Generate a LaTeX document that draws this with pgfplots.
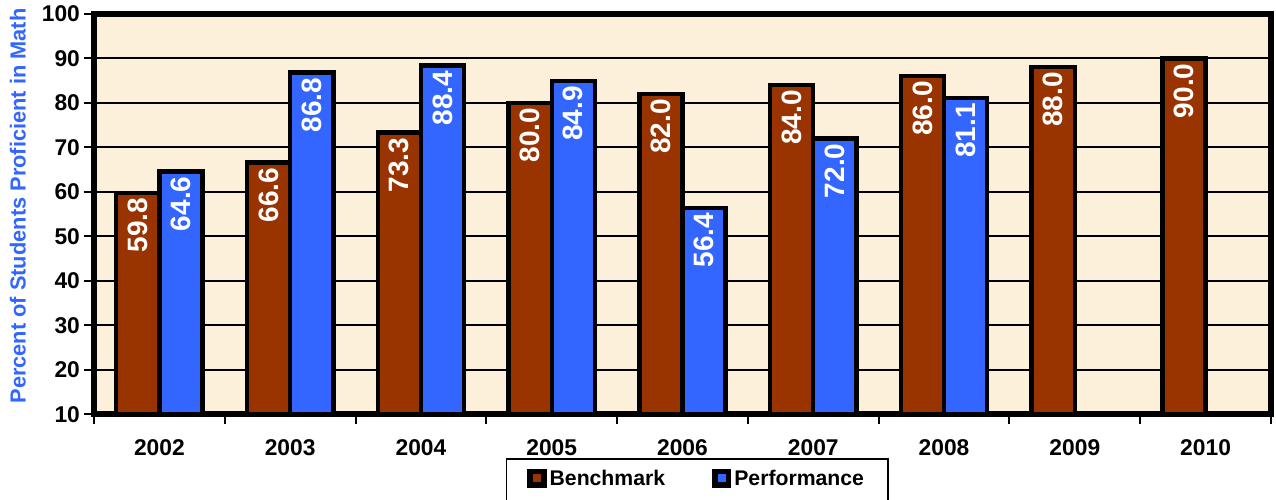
\documentclass[border=0pt]{standalone}
\usepackage{fontspec}
\setmainfont{Liberation Sans}
\usepackage{pgfplots}
\pgfplotsset{compat=1.18}
\usetikzlibrary{calc}
\definecolor{bench}{HTML}{993300}
\definecolor{perf}{HTML}{3366FF}
\definecolor{bg}{HTML}{FCF0DA}
\begin{document}
\begin{tikzpicture}
\begin{axis}[
  name=ax,
  scale only axis, width=588.5pt, height=200.25pt,
  ybar=0pt, bar width=0.33,
  xmin=-0.5, xmax=8.5, ymin=10, ymax=100,
  axis background/.style={fill=bg},
  axis line style={line width=3pt},
  xtick={0,...,8},
  xticklabels={2002,2003,2004,2005,2006,2007,2008,2009,2010},
  minor xtick={-0.5,0.5,...,8.5},
  major x tick style={draw=none},
  minor x tick style={black, line width=1pt},
  minor tick length=5pt,
  ytick={10,20,...,100},
  yticklabels={10,20,30,40,50,60,70,80,90,100},
  major tick length=5pt,
  ytick style={black, line width=1pt},
  tick align=outside,
  xtick pos=bottom, ytick pos=left,
  ymajorgrids,
  grid style={black, line width=1pt},
  ticklabel style={font=\bfseries\fontsize{11.4}{13}\selectfont},
  xticklabel style={yshift=-4pt},
  yticklabel style={xshift=1.5pt},
  ylabel={Percent of Students Proficient in Math},
  ylabel style={at={(axis description cs:-0.0646,0.52)}, anchor=center, color=perf, font=\bfseries\fontsize{10.9}{12}\selectfont},
  /pgf/number format/assume math mode=true,
  nodes near coords={\pgfmathprintnumber[fixed,zerofill,precision=1]{\pgfplotspointmeta}},
  every node near coord/.append style={rotate=90, anchor=east, text=white, inner sep=1.5pt, font=\bfseries\fontsize{14}{15}\selectfont},
  legend columns=2,
  legend style={at={(0.5125,-0.11)}, anchor=north, draw=black, line width=0.6pt, fill=white,
    font=\bfseries\fontsize{10.6}{12}\selectfont, inner xsep=10.5pt, inner ysep=3.5pt,
    nodes={inner xsep=1.5pt, text depth=5pt},
    /tikz/every even column/.append style={column sep=22pt}},
  legend image code/.code={\draw[#1, draw=black, line width=2.8pt] (0pt,-1.2pt) rectangle (6.8pt,5.6pt);},
]
\addplot[fill=bench, draw=black, line width=2.2pt] coordinates {
 (0,59.8) (1,66.6) (2,73.3) (3,80.0) (4,82.0) (5,84.0) (6,86.0) (7,88.0) (8,90.0)};
\addplot[fill=perf, draw=black, line width=2.2pt] coordinates {
 (0,64.6) (1,86.8) (2,88.4) (3,84.9) (4,56.4) (5,72.0) (6,81.1) (7,nan) (8,nan)};
\legend{Benchmark,Performance}
\end{axis}
\pgfresetboundingbox
\path[use as bounding box] ($(ax.south west)+(-47pt,-42.35pt)$) rectangle ($(ax.south west)+(591pt,207.15pt)$);
\end{tikzpicture}
\end{document}
